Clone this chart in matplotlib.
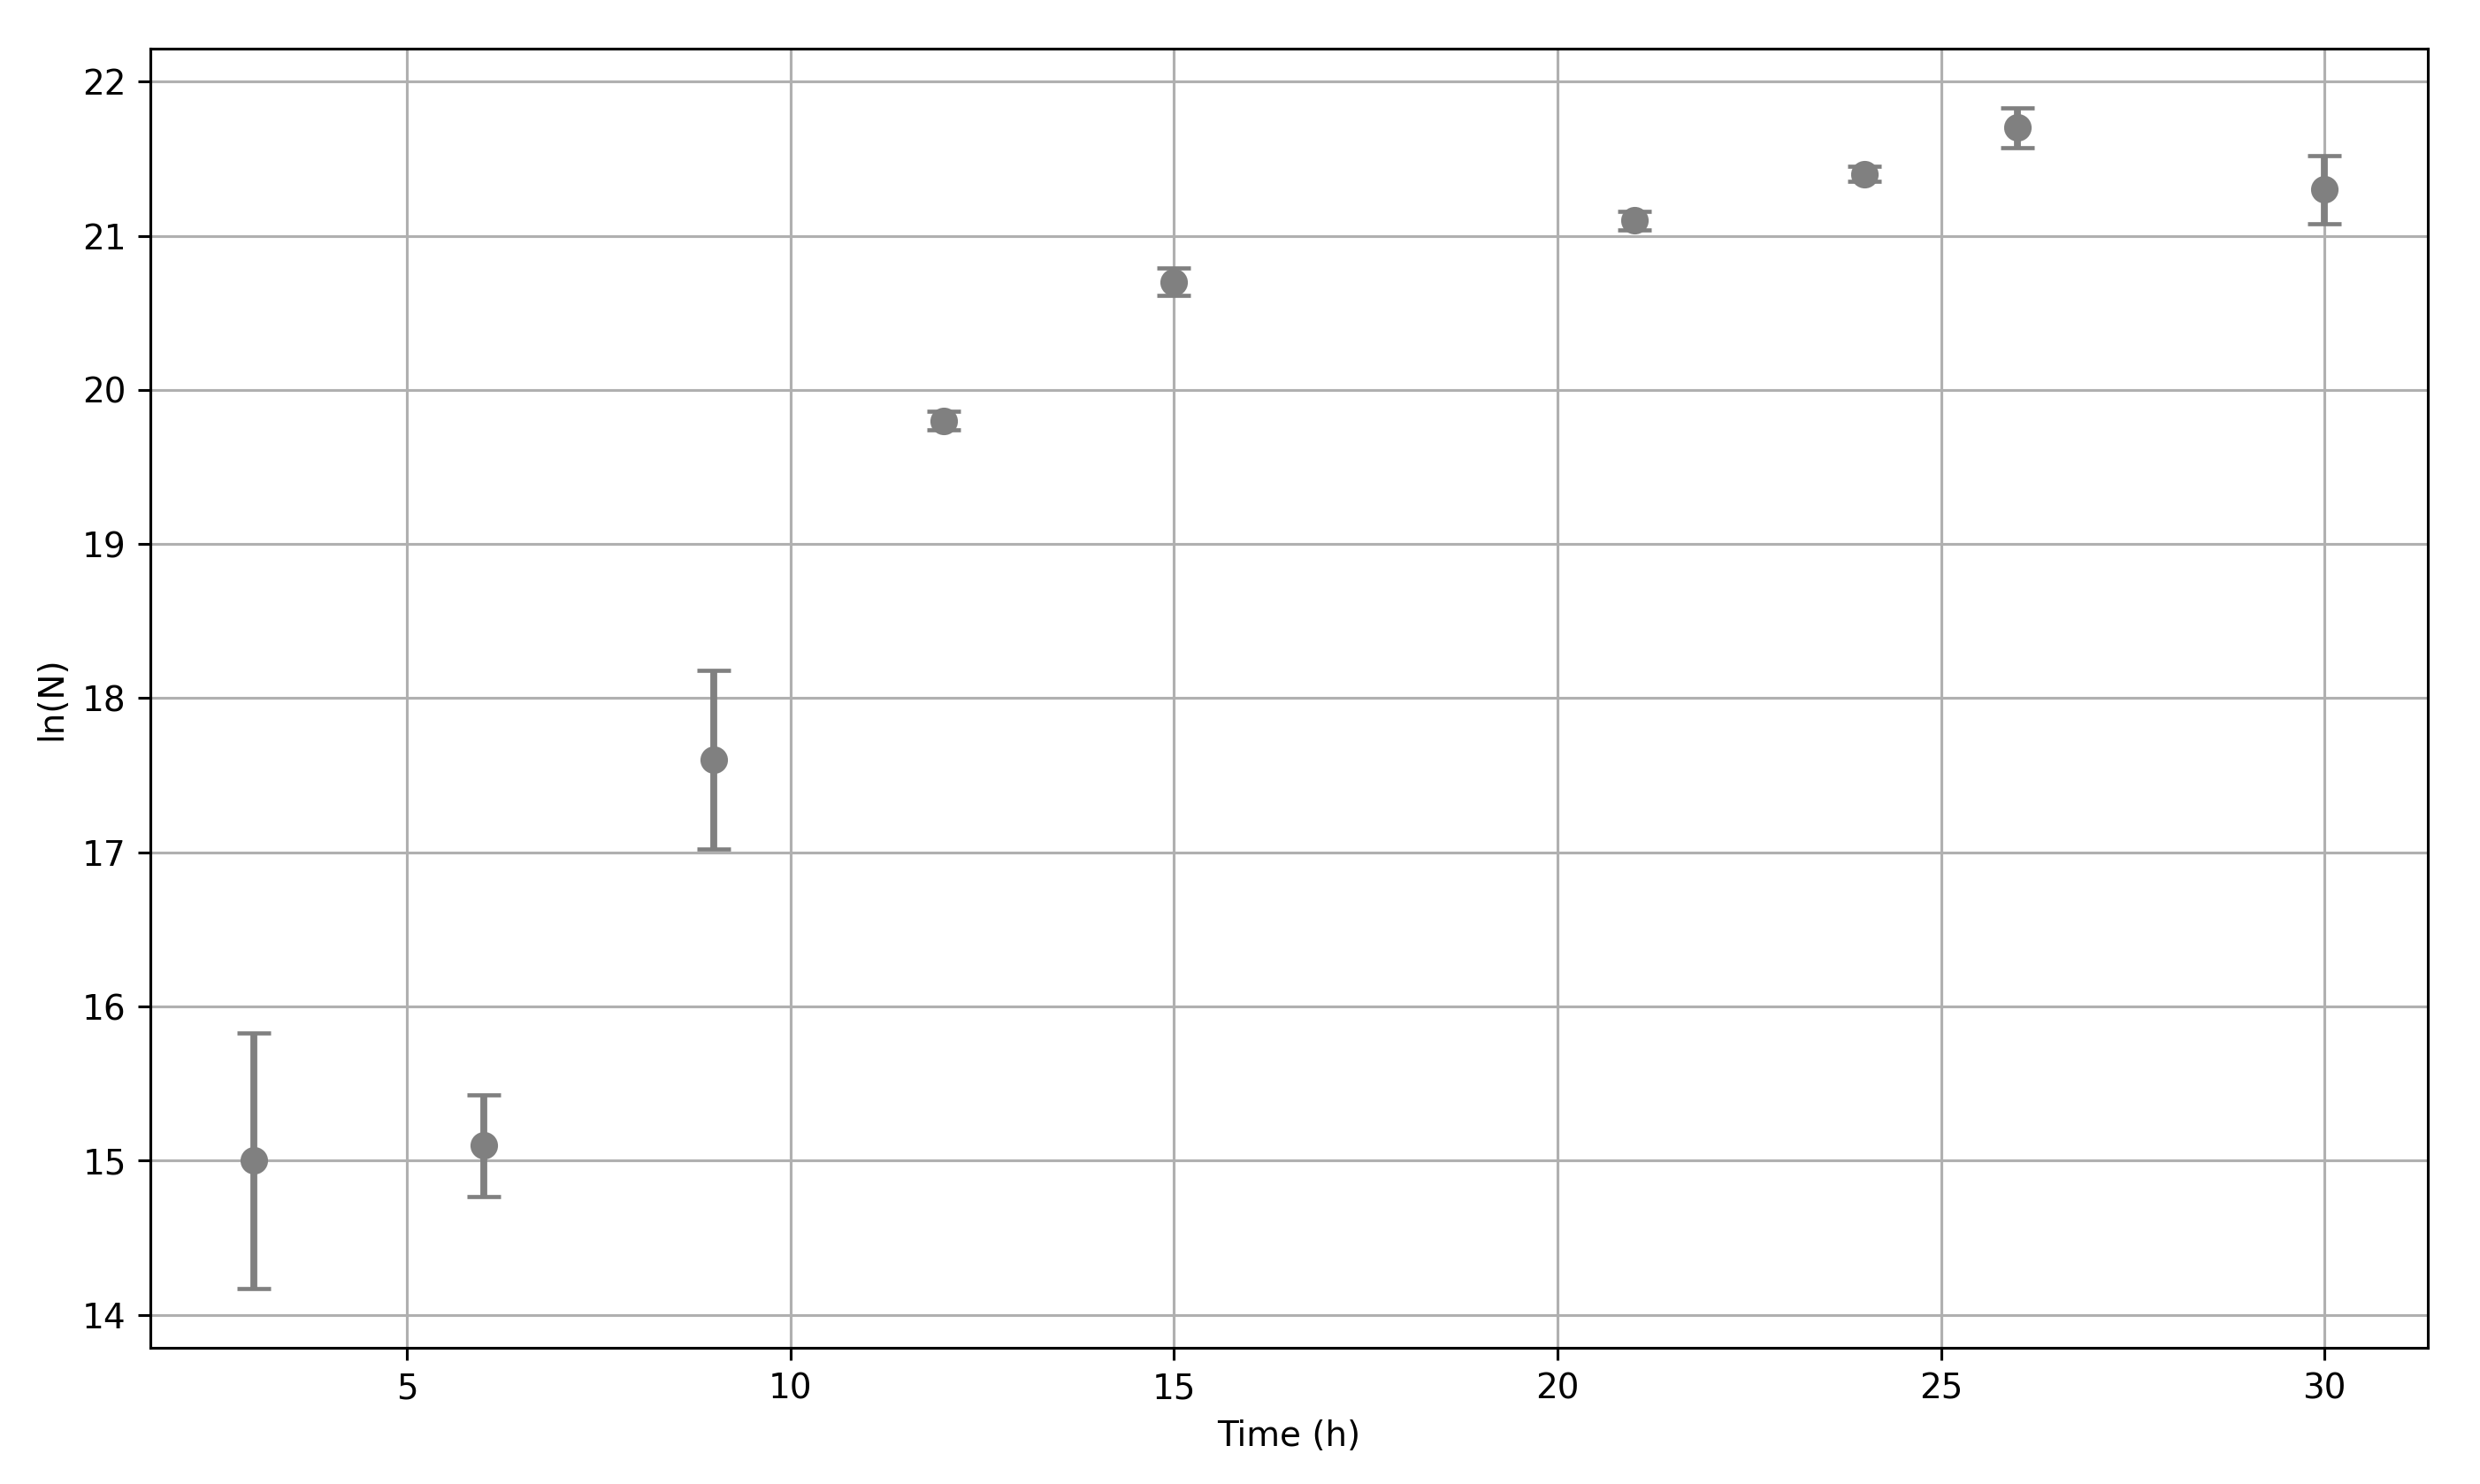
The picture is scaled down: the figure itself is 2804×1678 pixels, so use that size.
import matplotlib
matplotlib.use('Agg')
import matplotlib.pyplot as plt

# Datos
time_h = [3, 6, 9, 12, 15, 21, 24, 26, 30]
ln_n = [15.0, 15.1, 17.6, 19.8, 20.7, 21.1, 21.4, 21.7, 21.3]
ln_n_err = [0.83, 0.33, 0.58, 0.06, 0.09, 0.06, 0.05, 0.13, 0.22]

fig = plt.figure(figsize=(2804 / 280, 1678 / 280), dpi=280)
ax = fig.add_axes([0.0606, 0.0918, 0.9184, 0.8754])

ax.errorbar(time_h, ln_n, yerr=ln_n_err, fmt='o', color='gray',
            ecolor='gray', elinewidth=2, capsize=5, capthick=1.2, markersize=7)
ax.set_xlabel('Time (h)')
ax.set_ylabel('ln(N)')
ax.grid(True)

fig.savefig('out.png', dpi=280)
